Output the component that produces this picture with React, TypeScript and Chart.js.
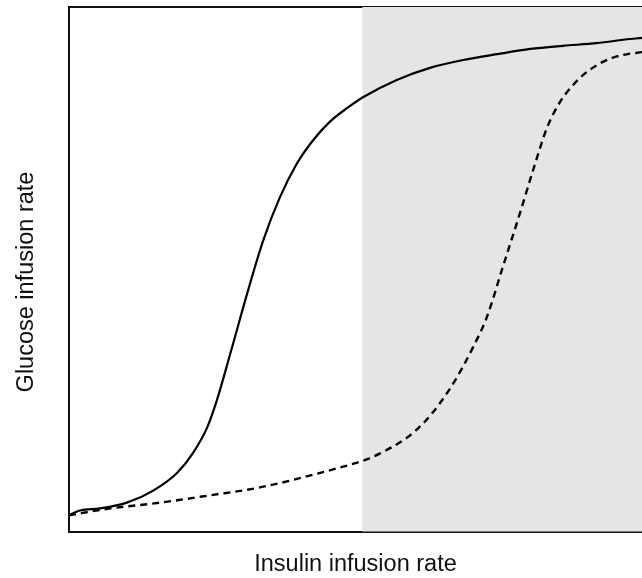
import React, { useEffect, useRef } from "react";
import { Chart, registerables } from "chart.js";

Chart.register(...registerables);

// Insulin infusion rate (arbitrary units, 0–10)
const solidX = [0, 0.19, 0.54, 1.01, 1.47, 1.88, 2.16, 2.41, 2.58, 2.83, 3.11, 3.39, 3.68, 3.98, 4.26, 4.55, 4.85, 5.13, 5.72, 6.3, 6.88, 7.47, 8.05, 8.62, 9.21, 9.79, 10];
// Glucose infusion rate, normal sensitivity
const solidY = [0.31, 0.4, 0.44, 0.55, 0.78, 1.11, 1.49, 1.98, 2.5, 3.45, 4.54, 5.55, 6.37, 7.02, 7.46, 7.81, 8.07, 8.28, 8.61, 8.84, 8.99, 9.1, 9.2, 9.26, 9.31, 9.39, 9.41];

const dashedX = [0, 0.72, 1.59, 2.46, 3.33, 4.73, 5.13, 5.43, 5.9, 6.18, 6.47, 6.77, 7.05, 7.29, 7.57, 7.87, 8.1, 8.34, 8.57, 8.78, 8.99, 9.21, 9.48, 9.74, 10];
// Glucose infusion rate, reduced sensitivity
const dashedY = [0.31, 0.44, 0.55, 0.69, 0.84, 1.22, 1.35, 1.49, 1.79, 2.06, 2.44, 2.94, 3.51, 4.08, 5.04, 6.07, 6.89, 7.69, 8.19, 8.49, 8.72, 8.89, 9.03, 9.1, 9.14];

const shadeStart = 5.12;
const xTitle = "Insulin infusion rate";
const yTitle = "Glucose infusion rate";

const FONT = "'Liberation Sans', Arial, sans-serif";

export default function App() {
  const ref = useRef<HTMLCanvasElement | null>(null);

  useEffect(() => {
    if (!ref.current) return;

    const shadePlugin = {
      id: "shade",
      beforeDatasetsDraw(chart: any) {
        const { ctx, chartArea, scales } = chart;
        const x0 = scales.x.getPixelForValue(shadeStart);
        ctx.save();
        ctx.fillStyle = "#e5e5e5";
        ctx.fillRect(x0, chartArea.top, chartArea.right - x0, chartArea.bottom - chartArea.top);
        ctx.restore();
      },
    };

    const yTitlePlugin = {
      id: "ytitle",
      afterDraw(chart: any) {
        const { ctx } = chart;
        ctx.save();
        ctx.translate(27, 282);
        ctx.rotate(-Math.PI / 2);
        ctx.font = `23.5px ${FONT}`;
        ctx.fillStyle = "#111";
        ctx.textAlign = "center";
        ctx.textBaseline = "middle";
        ctx.fillText(yTitle, 0, 0);
        ctx.restore();
      },
    };

    const chart = new Chart(ref.current, {
      type: "line",
      data: {
        datasets: [
          {
            data: solidX.map((x, i) => ({ x, y: solidY[i] })),
            borderColor: "#000",
            borderWidth: 2.2,
            pointRadius: 0,
            tension: 0.4,
            cubicInterpolationMode: "monotone",
            fill: false,
          },
          {
            data: dashedX.map((x, i) => ({ x, y: dashedY[i] })),
            borderColor: "#000",
            borderWidth: 2.4,
            borderDash: [7, 5],
            pointRadius: 0,
            tension: 0.4,
            cubicInterpolationMode: "monotone",
            fill: false,
          },
        ],
      },
      options: {
        animation: false,
        responsive: false,
        maintainAspectRatio: false,
        layout: { padding: { left: 69, top: 7, right: 0, bottom: 0 } },
        plugins: { legend: { display: false }, tooltip: { enabled: false } },
        scales: {
          x: {
            type: "linear",
            min: 0,
            max: 10,
            ticks: { display: false },
            grid: { display: false, drawTicks: false },
            border: { display: true, color: "#111", width: 2 },
            title: {
              display: true,
              text: xTitle,
              font: { family: FONT, size: 23.5, lineHeight: 1 },
              color: "#111",
              padding: { top: 21, bottom: 2 },
            },
          },
          x2: {
            type: "linear",
            position: "top",
            min: 0,
            max: 10,
            ticks: { display: false },
            grid: { display: false, drawTicks: false },
            border: { display: true, color: "#111", width: 2 },
          },
          y: {
            type: "linear",
            min: 0,
            max: 10,
            ticks: { display: false },
            grid: { display: false, drawTicks: false },
            border: { display: true, color: "#111", width: 2 },
          },
        },
      },
      plugins: [shadePlugin, yTitlePlugin],
    });
    return () => chart.destroy();
  }, []);

  return (
    <div style={{ position: "fixed", left: 0, top: 0, width: 642, height: 578, background: "#fff" }}>
      <canvas ref={ref} width={642} height={578} style={{ display: "block", width: 642, height: 578 }} />
    </div>
  );
}
